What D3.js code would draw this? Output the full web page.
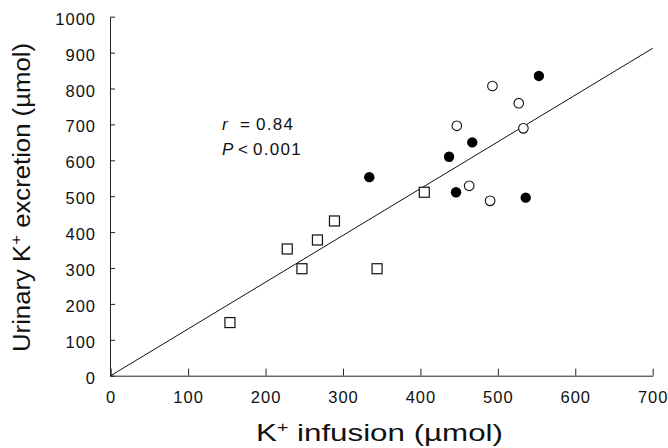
<!DOCTYPE html>
<html>
<head>
<meta charset="utf-8">
<script src="https://cdn.jsdelivr.net/npm/d3@7/dist/d3.min.js"></script>
<style>
  html, body { margin: 0; padding: 0; background: #fff; }
  svg { display: block; font-family: "Liberation Sans", Arial, Helvetica, sans-serif; }
</style>
</head>
<body>
<svg id="chart" width="668" height="448"></svg>
<script>
// ---- data ----
const xTicks = [0, 100, 200, 300, 400, 500, 600, 700];
const yTicks = [0, 100, 200, 300, 400, 500, 600, 700, 800, 900, 1000];

// open squares
const squareX = [154, 228, 247, 267, 289, 344, 405];
const squareY = [148, 353, 298, 378, 431, 298, 511];

// filled circles
const filledX = [334, 437, 467, 446, 536, 553];
const filledY = [553, 610, 650, 511, 496, 835];

// open circles
const openX = [493, 447, 527, 533, 463, 490];
const openY = [807, 696, 759, 689, 529, 487];

// regression line endpoints (through origin)
const lineX = [0, 700];
const lineY = [0, 912];

const statR = "0.84";
const statP = "0.001";

// ---- drawing ----
const svg = d3.select("#chart");
const x = d3.scaleLinear().domain([0, 700]).range([110.7, 652.7]);
const y = d3.scaleLinear().domain([0, 1000]).range([375.7, 16.7]);

const tickFont = 16.5;
const fmt = d3.format("d");

// x axis
const gx = svg.append("g")
  .attr("transform", `translate(0,${y(0)})`)
  .call(d3.axisBottom(x).tickValues(xTicks).tickFormat(fmt).tickSizeInner(-7).tickSizeOuter(0).tickPadding(16));
gx.select(".domain").attr("stroke", "#222");
gx.selectAll(".tick line").attr("stroke", "#222");
gx.selectAll(".tick text")
  .attr("font-size", tickFont).attr("fill", "#111")
  .attr("font-family", "Liberation Sans, Arial, sans-serif")
  .style("letter-spacing", "1px");

// y axis
const gy = svg.append("g")
  .attr("transform", `translate(${x(0) - 0.7},0)`)
  .call(d3.axisLeft(y).tickValues(yTicks).tickFormat(fmt).tickSizeInner(-5).tickSizeOuter(0).tickPadding(14));
gy.select(".domain").attr("stroke", "#222");
gy.selectAll(".tick line").attr("stroke", "#222");
gy.selectAll(".tick text")
  .attr("font-size", tickFont).attr("fill", "#111")
  .attr("font-family", "Liberation Sans, Arial, sans-serif")
  .attr("dy", "0.46em")
  .style("letter-spacing", "1px");

// regression line
svg.append("line")
  .attr("x1", x(lineX[0])).attr("y1", y(lineY[0]))
  .attr("x2", x(lineX[1])).attr("y2", y(lineY[1]))
  .attr("stroke", "#111").attr("stroke-width", 1);

// squares
const sq = 10;
svg.append("g").selectAll("rect")
  .data(squareX.map((d, i) => [d, squareY[i]]))
  .join("rect")
  .attr("x", d => x(d[0]) - sq / 2).attr("y", d => y(d[1]) - sq / 2)
  .attr("width", sq).attr("height", sq)
  .attr("fill", "#fff").attr("stroke", "#111").attr("stroke-width", 1.2);

// filled circles
svg.append("g").selectAll("circle")
  .data(filledX.map((d, i) => [d, filledY[i]]))
  .join("circle")
  .attr("cx", d => x(d[0])).attr("cy", d => y(d[1])).attr("r", 5.2)
  .attr("fill", "#000");

// open circles
svg.append("g").selectAll("circle")
  .data(openX.map((d, i) => [d, openY[i]]))
  .join("circle")
  .attr("cx", d => x(d[0])).attr("cy", d => y(d[1])).attr("r", 4.8)
  .attr("fill", "#fff").attr("stroke", "#111").attr("stroke-width", 1.1);

// annotation
const ann = svg.append("g").attr("font-size", 17).attr("fill", "#111");
const t1 = ann.append("text").attr("y", 129.5);
t1.append("tspan").attr("x", 222).attr("font-style", "italic").text("r");
t1.append("tspan").attr("x", 240).text("=");
t1.append("tspan").attr("x", 256).style("letter-spacing", "1.3px").text(statR);
const t2 = ann.append("text").attr("y", 155);
t2.append("tspan").attr("x", 222).attr("font-style", "italic").text("P");
t2.append("tspan").attr("x", 238).text("<");
t2.append("tspan").attr("x", 253).style("letter-spacing", "1.3px").text(statP);

// x title
const xt = svg.append("text")
  .attr("x", 379.5).attr("y", 441)
  .attr("text-anchor", "middle")
  .attr("font-size", 24).attr("fill", "#111")
  .attr("textLength", 247).attr("lengthAdjust", "spacingAndGlyphs");
xt.append("tspan").text("K");
xt.append("tspan").attr("font-size", 15).attr("dy", -9).text("+");
xt.append("tspan").attr("dy", 9).text(" infusion (µmol)");

// y title
const yt = svg.append("text")
  .attr("transform", "translate(30,197.5) rotate(-90)")
  .attr("text-anchor", "middle")
  .attr("font-size", 23).attr("fill", "#111")
  .attr("textLength", 309).attr("lengthAdjust", "spacingAndGlyphs");
yt.append("tspan").text("Urinary K");
yt.append("tspan").attr("font-size", 15).attr("dy", -9).text("+");
yt.append("tspan").attr("dy", 9).text(" excretion (µmol)");
</script>
</body>
</html>
